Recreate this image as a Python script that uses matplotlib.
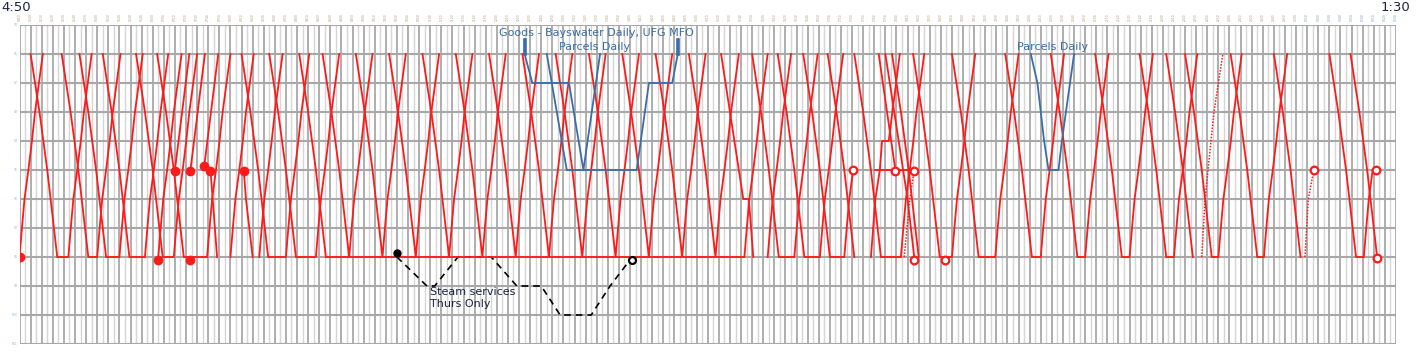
import matplotlib
matplotlib.use('Agg')
import matplotlib.pyplot as plt

# station lines, top to bottom (labels are too small to read in the original)
stations = ['S0', 'S1', 'S2', 'S3', 'S4', 'S5', 'S6', 'S7', 'S8', 'S9', 'S10', 'S11']

# running times (min) of the red shuttle
down_run = [0, 4, 8, 11.5, 15, 18, 21, 24]       # st1 .. st8
up_run = [0, 2.2, 4.5, 8, 11.2, 14, 17.5, 21]    # st8 .. st1

# turn-rounds at the bottom terminus: (arrive, depart, down starts at, up ends at)
turns = [
    (None, '4:50', None, 1),
    ('5:24', '5:34', 1, 1),
    ('5:52', '6:00', 1, 1),
    ('6:08', '6:20', 1, 1),
    ('6:29', '6:43', 1, 1),
    (None, '6:55', None, 1),
    ('6:59', '7:09', 1, 1),
    ('7:18', '7:39', 1, 1),
    (None, '8:00', None, 1),
    (None, '8:26', None, 1),
    ('8:34', '8:50', 1, 1),
    ('8:59', '9:17', 1, 1),
    ('9:26', None, 1, None),
    ('9:47', '9:47', 1, 1),
    ('10:17', '10:17', 1, 1),
    ('10:47', '10:47', 1, 1),
    ('11:17', '11:17', 1, 1),
    ('11:47', '11:47', 1, 1),
    ('12:17', '12:17', 1, 1),
    ('12:47', '12:47', 1, 1),
    ('13:17', '13:17', 1, 1),
    ('13:47', '13:47', 1, 1),
    ('14:17', '14:17', 1, 1),
    ('14:47', '14:47', 1, 1),
    ('15:17', '15:17', 1, 1),
    (None, '15:43', None, 1),
    (None, '16:04', None, 1),
    ('16:14', '16:28', 1, 1),
    ('16:37', '16:51', 1, 1),
    ('17:00', '17:13', 1, 5),
    ('17:22', None, 1, None),
    ('17:46', '18:04', 1, 1),
    ('18:20', None, 1, None),
    ('18:39', '18:50', 1, 1),
    ('19:14', '19:29', 1, 1),
    ('20:02', '20:10', 1, 1),
    ('20:43', '20:50', 1, 1),
    ('21:23', '21:30', 1, 1),
    ('22:03', '22:10', 1, 1),
    ('22:27', None, 1, None),
    ('22:44', '22:50', 1, 1),
    ('23:25', '23:31', 1, 1),
    ('24:04', None, 1, None),
    ('24:54', '25:01', 1, 5),
    ('25:13', None, 1, None),
]

# other red workings: (time, station)
extra_red = [
    [('7:10', 5), ('7:23', 1)],
    [('7:24', 5), ('7:37', 1)],
    [('7:36', 5), ('7:49', 1)],
    [('7:42', 5), ('7:44', 6), ('7:48', 8)],
    [('8:12', 5), ('8:14', 6), ('8:20', 8)],
    [('9:26', 8), ('15:43', 8)],
    [('15:22', 1), ('15:42', 6), ('15:47', 6), ('15:51', 8)],
    [('17:37', 8), ('17:41', 6), ('17:45', 5), ('17:47', 4), ('17:53', 4), ('18:03', 1)],
    [('17:44', 1), ('17:59', 5)],
    [('17:41', 5), ('18:16', 5)],
    [('17:50', 1), ('18:10', 6), ('18:16', 8)],
]
dotted_red = [
    [('18:07', 8), ('18:12', 6), ('18:16', 5)],
    [('22:35', 8), ('22:38', 6), ('22:46', 3), ('22:54', 1)],
    [('24:08', 8), ('24:11', 6), ('24:16', 5)],
]
red_starts = [('4:50', 8), ('6:55', 8.1), ('7:24', 8.1), ('7:10', 5.05), ('7:24', 5.05),
              ('7:36', 4.85), ('7:42', 5.05), ('8:12', 5.05)]
red_ends = [('17:21', 5), ('17:59', 5.05), ('18:16', 5.05), ('18:16', 8.1), ('18:44', 8.1),
            ('24:16', 5), ('25:12', 5), ('25:13', 8.05)]

goods = [('12:25', 0.5), ('12:25', 1), ('12:32', 2), ('13:05', 2), ('13:18', 5), ('13:33', 1)]
parcels = [('12:45', 1), ('13:03', 5), ('14:06', 5), ('14:17', 2), ('14:38', 2), ('14:43', 1), ('14:43', 0.5)]
parcels2 = [('20:01', 1), ('20:07', 2), ('20:13', 4), ('20:17', 5), ('20:26', 5), ('20:29', 4), ('20:40', 1)]

steam = [('10:30', 8), ('10:57', 9), ('11:04', 9), ('11:25', 8), ('11:55', 8), ('12:18', 9),
         ('12:40', 9), ('12:57', 10), ('13:25', 10), ('13:42', 9), ('14:02', 8)]

t_start, t_end = '4:50', '25:30'


def tm(s):
    h, m = s.split(':')
    return int(h) * 60 + float(m)


def xy(path):
    return [tm(t) for t, s in path], [s for t, s in path]


RED = '#ff1a1a'
BLUE = '#3b6ea8'

fig = plt.figure(figsize=(14.16, 3.53), dpi=100)
ax = fig.add_axes([19.5 / 1416, 9 / 353, 1376.5 / 1416, 319 / 353])
x0, x1 = tm(t_start), tm(t_end)
ax.set_xlim(x0, x1)
ax.set_ylim(11, 0)
ax.axis('off')

# grid
for t in range(int(x0), int(x1) + 1, 5):
    major = (t - x0) % 10 == 0
    ax.vlines(t, 0, 11, color='#a8a8a8' if major else '#d6d6d6', lw=1.3 if major else 1.0, zorder=1)
    if major:
        lab = '%02d%02d' % ((t // 60) % 24, t % 60)
        ax.text(t, -0.15, lab, rotation=90, fontsize=2.2, ha='center', va='bottom',
                color='#b39a7a' if t < 1450 else '#7f95b3', clip_on=False)
for i, name in enumerate(stations):
    ax.hlines(i, x0, x1, color='#a8a8a8', lw=1.5, zorder=1)
    ax.text(x0 - 2, i, name, fontsize=2.2, ha='right', va='center', color='#8fb0d0', clip_on=False)

# steam specials (under the red)
ax.plot(*xy(steam), color='black', lw=1.2, ls=(0, (4, 3)), zorder=2)
ax.plot(tm(steam[0][0]), 7.87, 'o', ms=5, color='black', zorder=5)
ax.plot(tm(steam[-1][0]), 8.12, 'o', ms=5, mfc='white', mec='black', mew=1.6, zorder=5)
ax.text(tm('11:00'), 9.05, 'Steam services\nThurs Only', color='#1c2540', fontsize=8,
        ha='left', va='top', linespacing=1.2, zorder=6)

# red shuttle turn-rounds
for arr, dep, frm, to in turns:
    xs, ys = [], []
    if arr is not None:
        a = tm(arr)
        for k in range(frm - 1, 8):
            xs.append(a - down_run[-1] + down_run[k])
            ys.append(k + 1)
    if dep is not None:
        d = tm(dep)
        for k in range(0, 8 - to + 1):
            xs.append(d + up_run[k])
            ys.append(8 - k)
    ax.plot(xs, ys, color=RED, lw=1.3, zorder=3, solid_joinstyle='miter')

for p in extra_red:
    ax.plot(*xy(p), color=RED, lw=1.3, zorder=3)
for p in dotted_red:
    ax.plot(*xy(p), color=RED, lw=1.1, ls=(0, (1, 1)), zorder=3)

ax.plot(*xy(red_starts), ls='none', marker='o', ms=6, color=RED, zorder=5)
ax.plot(*xy(red_ends), ls='none', marker='o', ms=5.5, mfc='white', mec=RED, mew=1.6, zorder=5)

# blue goods / parcels
for p in (goods, parcels, parcels2):
    ax.plot(*xy(p), color=BLUE, lw=1.3, zorder=4)
ax.plot(*xy(goods[:2]), color=BLUE, lw=2.6, zorder=4)
ax.plot(*xy(parcels[-2:]), color=BLUE, lw=2.6, zorder=4)
ax.text(tm('13:30'), 0.28, 'Goods - Bayswater Daily, UFG MFO', color=BLUE, fontsize=8,
        ha='center', va='center', zorder=6)
ax.text(tm('13:28'), 0.76, 'Parcels Daily', color=BLUE, fontsize=8, ha='center', va='center', zorder=6)
ax.text(tm('20:21'), 0.76, 'Parcels Daily', color=BLUE, fontsize=8, ha='center', va='center', zorder=6)

fig.text(1 / 1416, 1 - 1 / 353, '4:50', fontsize=9.5, ha='left', va='top', color='#1c2540')
fig.text(1410 / 1416, 1 - 1 / 353, '1:30', fontsize=9.5, ha='right', va='top', color='#1c2540')

fig.savefig('out.png', dpi=100)
